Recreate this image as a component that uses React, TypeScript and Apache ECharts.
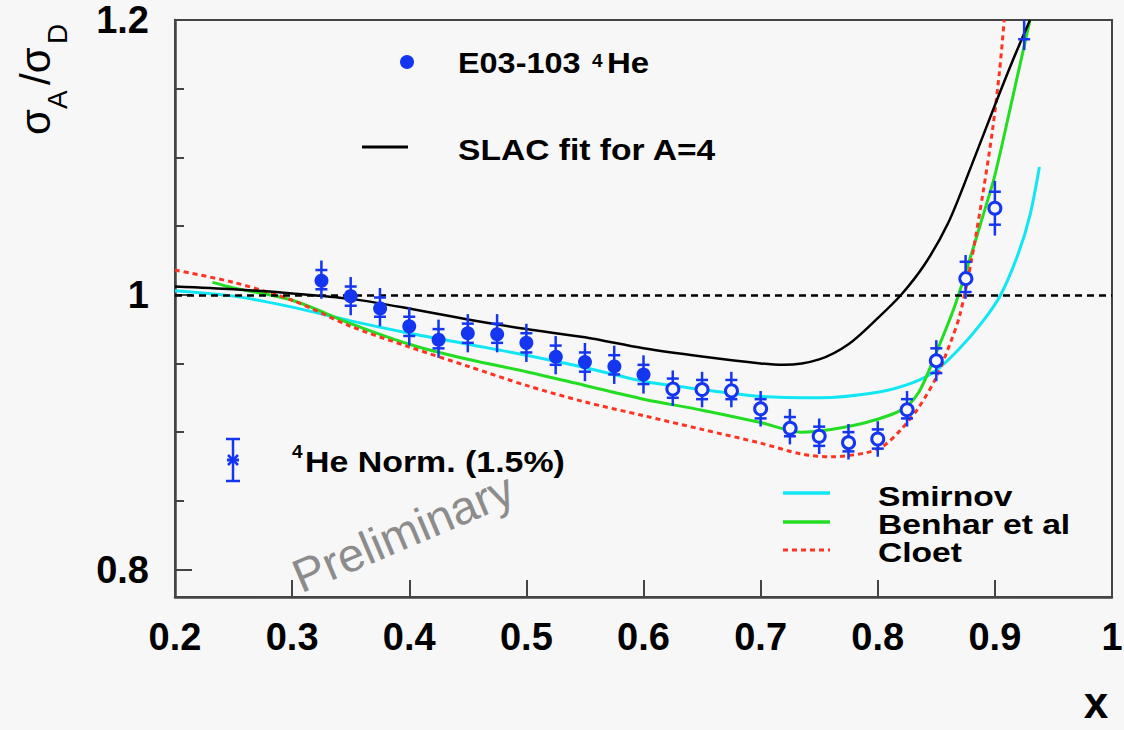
import React, { useEffect, useRef } from "react";
import * as echarts from "echarts";

// ---------------- data ----------------
const E03_X = [0.325, 0.35, 0.375, 0.4, 0.425, 0.45, 0.475, 0.5, 0.525, 0.55, 0.575, 0.6, 0.625, 0.65, 0.675, 0.7, 0.725, 0.75, 0.775, 0.8, 0.825, 0.85, 0.875, 0.9, 0.925];
const E03_RATIO = [1.011, 0.999, 0.991, 0.977, 0.968, 0.972, 0.972, 0.965, 0.956, 0.951, 0.949, 0.942, 0.932, 0.931, 0.931, 0.917, 0.904, 0.897, 0.893, 0.895, 0.917, 0.952, 1.013, 1.063, 1.202];
const E03_ERR_TOTAL = [0.011, 0.011, 0.011, 0.011, 0.011, 0.011, 0.011, 0.011, 0.011, 0.011, 0.011, 0.011, 0.01, 0.01, 0.01, 0.01, 0.01, 0.01, 0.01, 0.01, 0.01, 0.012, 0.013, 0.017, 0.021];
const E03_ERR_STAT = [0.007, 0.007, 0.007, 0.007, 0.007, 0.007, 0.007, 0.007, 0.007, 0.007, 0.007, 0.007, 0.007, 0.007, 0.007, 0.007, 0.007, 0.007, 0.007, 0.007, 0.007, 0.009, 0.011, 0.012, 0.016];
const E03_OPEN = [0, 0, 0, 0, 0, 0, 0, 0, 0, 0, 0, 0, 1, 1, 1, 1, 1, 1, 1, 1, 1, 1, 1, 1, 1];

const SLAC_X = [0.2, 0.25, 0.3, 0.35, 0.4, 0.45, 0.5, 0.55, 0.6, 0.65, 0.7, 0.72, 0.75, 0.775, 0.8, 0.82, 0.84, 0.86, 0.88, 0.9, 0.915, 0.93];
const SLAC_Y = [1.006, 1.004, 1.001, 0.997, 0.99, 0.982, 0.975, 0.969, 0.961, 0.955, 0.95, 0.949, 0.953, 0.964, 0.983, 1.0, 1.022, 1.052, 1.094, 1.138, 1.17, 1.2];

const SMIRNOV_X = [0.2, 0.25, 0.3, 0.35, 0.4, 0.45, 0.5, 0.55, 0.6, 0.65, 0.7, 0.75, 0.8, 0.83, 0.85, 0.87, 0.89, 0.905, 0.92, 0.93, 0.938];
const SMIRNOV_Y = [1.003, 0.999, 0.991, 0.981, 0.972, 0.964, 0.956, 0.947, 0.937, 0.931, 0.926, 0.925, 0.929, 0.936, 0.945, 0.961, 0.981, 1.0, 1.03, 1.058, 1.093];

const BENHAR_X = [0.232, 0.25, 0.3, 0.35, 0.4, 0.45, 0.5, 0.55, 0.6, 0.65, 0.7, 0.735, 0.76, 0.79, 0.82, 0.835, 0.85, 0.865, 0.875, 0.89, 0.9, 0.915, 0.93];
const BENHAR_Y = [1.009, 1.005, 0.996, 0.979, 0.964, 0.953, 0.944, 0.934, 0.924, 0.916, 0.907, 0.9, 0.902, 0.907, 0.916, 0.929, 0.958, 0.99, 1.016, 1.058, 1.087, 1.143, 1.2];

const CLOET_X = [0.2, 0.25, 0.3, 0.35, 0.4, 0.45, 0.5, 0.55, 0.6, 0.65, 0.7, 0.735, 0.76, 0.79, 0.805, 0.82, 0.835, 0.85, 0.862, 0.87, 0.88, 0.89, 0.898, 0.904, 0.908];
const CLOET_Y = [1.018, 1.009, 0.996, 0.977, 0.962, 0.948, 0.934, 0.922, 0.912, 0.902, 0.892, 0.884, 0.882, 0.885, 0.89, 0.902, 0.918, 0.94, 0.965, 0.985, 1.025, 1.075, 1.12, 1.163, 1.2];

const UNITY = 1;
const Y_LABEL_VALUES = [0.8, 1, 1.2];
const Y_MINOR_TICKS = [0.85, 0.9, 0.95, 1.05, 1.1, 1.15];

// ---------------- styles ----------------
const BG = "#f7f7f7";
const BLUE = "#1436f0";
const CYAN = "#10e6f4";
const GREEN = "#22dd22";
const RED = "#ff3322";
const AXIS = "#444444";
const FONT = "'Liberation Sans', Arial, Helvetica, sans-serif";

const zip = (xs: number[], ys: number[]) => xs.map((x, i) => [x, ys[i]]);

function txt(x: number, y: number, text: string, size: number, opts: any = {}) {
  return {
    type: "text",
    x,
    y,
    scaleX: opts.scaleX ?? 1,
    rotation: opts.rotation ?? 0,
    z: 20,
    style: {
      text,
      fontSize: size,
      fontWeight: opts.weight ?? "bold",
      fontFamily: FONT,
      fill: opts.fill ?? "#000",
      align: opts.align ?? "left",
      verticalAlign: opts.va ?? "middle",
    },
  };
}

function buildOption(): any {
  const points = E03_X.map((x, i) => [x, E03_RATIO[i], E03_ERR_TOTAL[i], E03_ERR_STAT[i], E03_OPEN[i]]);

  const graphic: any[] = [
    // legend: data
    { type: "circle", shape: { cx: 407, cy: 62, r: 7 }, style: { fill: BLUE }, z: 20 },
    txt(458, 63, "E03-103", 30, { scaleX: 1.08 }),
    txt(592, 51, "4", 19, { va: "top" }),
    txt(607, 63, "He", 30, { scaleX: 1.1 }),
    // legend: SLAC
    { type: "line", shape: { x1: 362, y1: 147, x2: 408, y2: 147 }, style: { stroke: "#000", lineWidth: 3 }, z: 20 },
    txt(458, 150, "SLAC fit for A=4", 30, { scaleX: 1.12 }),
    // legend: normalisation error
    { type: "line", shape: { x1: 233, y1: 439, x2: 233, y2: 481 }, style: { stroke: BLUE, lineWidth: 2.5 }, z: 20 },
    { type: "line", shape: { x1: 226, y1: 439, x2: 240, y2: 439 }, style: { stroke: BLUE, lineWidth: 2.5 }, z: 20 },
    { type: "line", shape: { x1: 226, y1: 481, x2: 240, y2: 481 }, style: { stroke: BLUE, lineWidth: 2.5 }, z: 20 },
    { type: "line", shape: { x1: 227, y1: 460, x2: 239, y2: 460 }, style: { stroke: BLUE, lineWidth: 3 }, z: 20 },
    { type: "line", shape: { x1: 228, y1: 455, x2: 238, y2: 465 }, style: { stroke: BLUE, lineWidth: 2.5 }, z: 20 },
    { type: "line", shape: { x1: 228, y1: 465, x2: 238, y2: 455 }, style: { stroke: BLUE, lineWidth: 2.5 }, z: 20 },
    txt(292, 442, "4", 19, { va: "top" }),
    txt(305, 462, "He Norm. (1.5%)", 30, { scaleX: 1.13 }),
    // legend: models
    { type: "line", shape: { x1: 783, y1: 493, x2: 830, y2: 493 }, style: { stroke: CYAN, lineWidth: 3.5 }, z: 20 },
    { type: "line", shape: { x1: 783, y1: 522, x2: 830, y2: 522 }, style: { stroke: GREEN, lineWidth: 3.5 }, z: 20 },
    { type: "line", shape: { x1: 783, y1: 550, x2: 830, y2: 550 }, style: { stroke: RED, lineWidth: 3, lineDash: [5, 4] }, z: 20 },
    txt(878, 496, "Smirnov", 28, { scaleX: 1.2 }),
    txt(878, 524, "Benhar et al", 28, { scaleX: 1.2 }),
    txt(878, 552, "Cloet", 28, { scaleX: 1.2 }),
    // watermark
    txt(304, 600, "Preliminary", 47, { weight: "normal", fill: "#8c8c8c", va: "bottom", rotation: (23 * Math.PI) / 180 }),
    // axis titles
    txt(1096, 702, "x", 44, { align: "center" }),
    {
      type: "group",
      x: 50,
      y: 135,
      rotation: Math.PI / 2,
      z: 20,
      children: [
        txt(0, -15, "σ", 42, { weight: "normal" }),
        txt(26, 7, "A", 28, { weight: "normal" }),
        txt(50, -15, "/σ", 42, { weight: "normal" }),
        txt(91, 7, "D", 28, { weight: "normal" }),
      ],
    },
  ];

  const lineSeries = (name: string, data: number[][], color: string, width: number, type: any, z: number) => ({
    name,
    type: "line",
    data,
    symbol: "none",
    showSymbol: false,
    smooth: 0.3,
    z,
    lineStyle: { color, width, type },
    emphasis: { disabled: true },
  });

  const slac: any = lineSeries("SLAC fit for A=4", zip(SLAC_X, SLAC_Y), "#000", 2.5, "solid", 3);
  slac.markLine = {
    silent: true,
    symbol: ["none", "none"],
    label: { show: false },
    lineStyle: { color: "#000", width: 2.5, type: [7, 5] },
    data: [{ yAxis: UNITY }],
  };

  return {
    animation: false,
    backgroundColor: BG,
    grid: {
      left: 175,
      right: 12,
      top: 20,
      bottom: 133,
      show: true,
      borderColor: AXIS,
      borderWidth: 2,
      backgroundColor: "transparent",
      outerBoundsMode: "none",
      containLabel: false,
    },
    xAxis: {
      type: "value",
      min: 0.2,
      max: 1,
      interval: 0.1,
      axisLine: { show: true, onZero: false, lineStyle: { color: AXIS, width: 2.5 } },
      axisTick: { show: true, inside: true, length: 17, lineStyle: { color: AXIS, width: 2 } },
      splitLine: { show: false },
      axisLabel: {
        margin: 21,
        fontSize: 38,
        fontWeight: "bold",
        fontFamily: FONT,
        color: "#000",
        formatter: (v: number) => String(+v.toFixed(2)),
      },
    },
    yAxis: [
      {
        type: "value",
        min: 0.78,
        max: 1.2,
        position: "left",
        axisLine: { show: true, onZero: false, lineStyle: { color: AXIS, width: 2.5 } },
        axisTick: { show: true, inside: true, length: 17, customValues: Y_LABEL_VALUES, lineStyle: { color: AXIS, width: 2 } },
        splitLine: { show: false },
        axisLabel: {
          customValues: Y_LABEL_VALUES,
          margin: 26,
          fontSize: 38,
          fontWeight: "bold",
          fontFamily: FONT,
          color: "#000",
          formatter: (v: number) => String(+v.toFixed(2)),
        },
      },
      {
        type: "value",
        min: 0.78,
        max: 1.2,
        position: "left",
        axisLine: { show: false },
        axisTick: { show: true, inside: true, length: 9, customValues: Y_MINOR_TICKS, lineStyle: { color: AXIS, width: 2 } },
        splitLine: { show: false },
        axisLabel: { show: false },
      },
    ],
    graphic,
    series: [
      lineSeries("Smirnov", zip(SMIRNOV_X, SMIRNOV_Y), CYAN, 3, "solid", 2),
      lineSeries("Benhar et al", zip(BENHAR_X, BENHAR_Y), GREEN, 3, "solid", 2),
      lineSeries("Cloet", zip(CLOET_X, CLOET_Y), RED, 3, [5, 4], 2),
      slac,
      {
        name: "E03-103 4He",
        type: "custom",
        z: 10,
        data: points,
        encode: { x: 0, y: 1 },
        renderItem: (params: any, api: any) => {
          const x = api.value(0);
          const y = api.value(1);
          const et = api.value(2);
          const es = api.value(3);
          const open = api.value(4);
          const c = api.coord([x, y]);
          const t = api.coord([x, y + et]);
          const b = api.coord([x, y - et]);
          const ct = api.coord([x, y + es]);
          const cb = api.coord([x, y - es]);
          const cs = params.coordSys;
          const top = cs.y;
          const bot = cs.y + cs.height;
          const clamp = (v: number) => Math.max(top, Math.min(bot, v));
          const children: any[] = [];
          children.push({
            type: "line",
            shape: { x1: c[0], y1: clamp(t[1] - 4), x2: c[0], y2: clamp(b[1] + 4) },
            style: { stroke: BLUE, lineWidth: 2.5 },
          });
          [ct[1], cb[1]].forEach((yy) => {
            if (yy >= top && yy <= bot) {
              children.push({
                type: "line",
                shape: { x1: c[0] - 6, y1: yy, x2: c[0] + 6, y2: yy },
                style: { stroke: BLUE, lineWidth: 2.5 },
              });
            }
          });
          if (c[1] >= top && c[1] <= bot) {
            if (open) {
              children.push({ type: "circle", shape: { cx: c[0], cy: c[1], r: 6 }, style: { fill: BG, stroke: BLUE, lineWidth: 3 } });
            } else {
              children.push({ type: "circle", shape: { cx: c[0], cy: c[1], r: 7 }, style: { fill: BLUE } });
            }
          }
          return { type: "group", children };
        },
      },
    ],
  };
}

export default function App() {
  const ref = useRef<HTMLDivElement>(null);
  useEffect(() => {
    if (!ref.current) return;
    const chart = echarts.init(ref.current, null, { renderer: "svg" });
    chart.setOption(buildOption());
    return () => chart.dispose();
  }, []);
  return (
    <div
      ref={ref}
      style={{ position: "fixed", left: 0, top: 0, width: 1124, height: 730, background: BG }}
    />
  );
}
